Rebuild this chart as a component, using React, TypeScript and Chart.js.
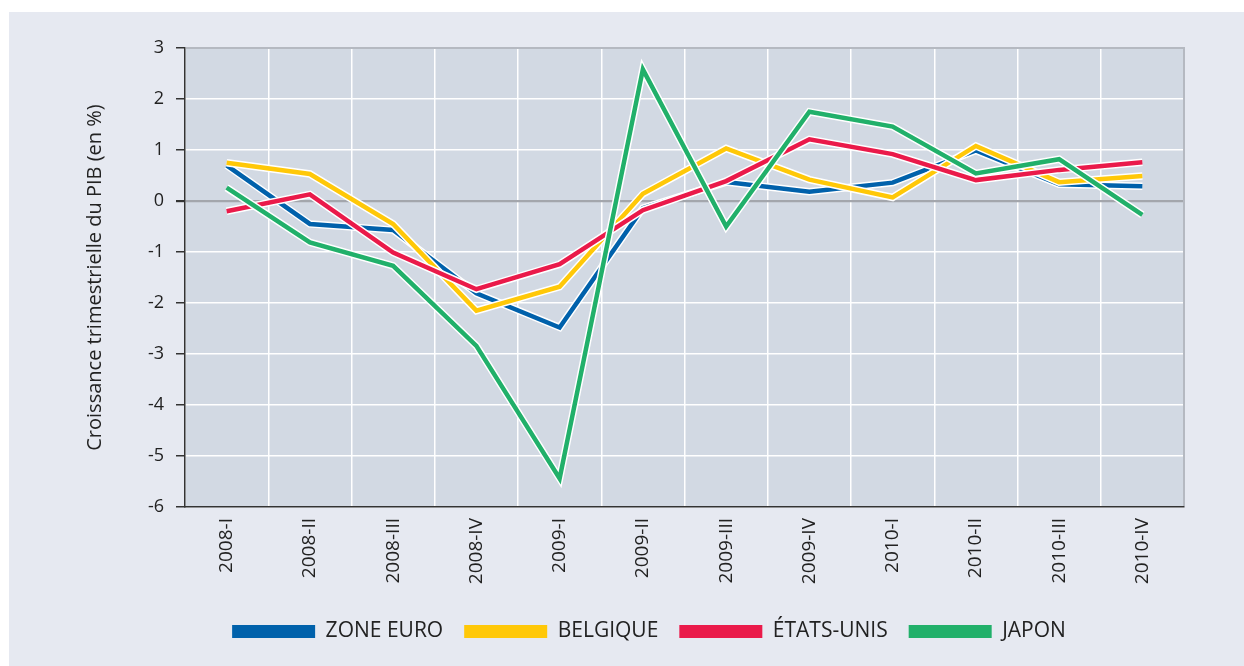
import React, { useEffect, useRef } from "react";
import { Chart, registerables } from "chart.js";

Chart.register(...registerables);

const categories = ["2008-I", "2008-II", "2008-III", "2008-IV", "2009-I", "2009-II", "2009-III", "2009-IV", "2010-I", "2010-II", "2010-III", "2010-IV"];
const zoneEuro = [0.7, -0.45, -0.57, -1.81, -2.48, -0.14, 0.37, 0.18, 0.36, 0.99, 0.33, 0.29];
const belgique = [0.75, 0.53, -0.45, -2.15, -1.68, 0.14, 1.03, 0.42, 0.07, 1.08, 0.37, 0.49];
const etatsUnis = [-0.2, 0.13, -1.01, -1.73, -1.24, -0.18, 0.39, 1.21, 0.92, 0.41, 0.61, 0.76];
const japon = [0.26, -0.81, -1.27, -2.84, -5.44, 2.58, -0.5, 1.75, 1.46, 0.54, 0.82, -0.27];
const seriesNames = ["ZONE EURO", "BELGIQUE", "ÉTATS-UNIS", "JAPON"];
const seriesValues = [zoneEuro, belgique, etatsUnis, japon];
const seriesColors = ["#0061ab", "#ffc808", "#ea1a4a", "#21b06a"];
const yMin = -6;
const yMax = 3;
const yTitle = "Croissance trimestrielle du PIB (en %)";

const FONT = "'Open Sans', 'DejaVu Sans', sans-serif";

const plotPlugin = {
  id: "plotDecor",
  beforeDraw(chart: any) {
    const { ctx, chartArea: a } = chart;
    ctx.save();
    ctx.fillStyle = "#d2d9e3";
    ctx.fillRect(a.left, a.top, a.right - a.left, a.bottom - a.top);
    ctx.restore();
  },
  beforeDatasetsDraw(chart: any) {
    const { ctx, chartArea: a } = chart;
    ctx.save();
    ctx.strokeStyle = "#b5b9c1";
    ctx.lineWidth = 2;
    ctx.beginPath();
    ctx.moveTo(a.left + 1, a.top);
    ctx.lineTo(a.right, a.top);
    ctx.lineTo(a.right, a.bottom - 1);
    ctx.stroke();
    ctx.restore();
  },
};

export default function App() {
  const ref = useRef<HTMLCanvasElement | null>(null);

  useEffect(() => {
    if (!ref.current) return;
    const colored = seriesNames.map((name, i) => ({
      label: name,
      data: seriesValues[i],
      borderColor: seriesColors[i],
      backgroundColor: seriesColors[i],
      borderWidth: 4.5,
      pointRadius: 0,
      pointHoverRadius: 0,
      tension: 0,
      borderJoinStyle: "miter" as const,
      order: (3 - i) * 2,
    }));
    const outlines = seriesNames.map((name, i) => ({
      label: name + "-outline",
      data: seriesValues[i],
      borderColor: "#ffffff",
      backgroundColor: "#ffffff",
      borderWidth: 7.5,
      pointRadius: 0,
      pointHoverRadius: 0,
      tension: 0,
      borderJoinStyle: "miter" as const,
      order: (3 - i) * 2 + 1,
    }));

    const chart = new Chart(ref.current, {
      type: "line",
      data: { labels: categories, datasets: [...colored, ...outlines] },
      plugins: [plotPlugin],
      options: {
        animation: false,
        responsive: false,
        devicePixelRatio: 1,
        layout: { padding: { left: 114, right: 60, top: 48, bottom: 14 } },
        plugins: {
          tooltip: { enabled: false },
          legend: {
            position: "bottom",
            labels: {
              boxWidth: 83,
              boxHeight: 13,
              padding: 21,
              color: "#222",
              font: { size: 21, family: FONT },
              generateLabels: (c: any) => {
                const items = Chart.defaults.plugins.legend.labels.generateLabels(c);
                return items
                  .filter((it: any) => it.datasetIndex < 4)
                  .sort((a: any, b: any) => a.datasetIndex - b.datasetIndex)
                  .map((it: any) => ({
                    ...it,
                    lineWidth: 0,
                    fillStyle: seriesColors[it.datasetIndex],
                    strokeStyle: seriesColors[it.datasetIndex],
                  }));
              },
            },
          },
        },
        scales: {
          x: {
            type: "category",
            offset: true,
            grid: { offset: true, color: "#ffffff", lineWidth: 1.5, drawTicks: false },
            border: { color: "#333333", width: 1.5 },
            ticks: {
              maxRotation: 90,
              minRotation: 90,
              padding: 11,
              color: "#222",
              font: { size: 19, family: FONT },
            },
            afterFit: (s: any) => {
              s.height = 93;
            },
          },
          y: {
            min: yMin,
            max: yMax,
            ticks: {
              stepSize: 1,
              padding: 12,
              color: "#222",
              font: { size: 18, family: FONT },
            },
            grid: {
              color: (ctx: any) => (ctx.tick && ctx.tick.value === 0 ? "#a3a6ac" : "#ffffff"),
              lineWidth: (ctx: any) => (ctx.tick && ctx.tick.value === 0 ? 2.2 : 1.5),
              tickColor: "#333333",
              tickLength: 9,
            },
            border: { color: "#333333", width: 1.5 },
            title: {
              display: true,
              text: yTitle,
              color: "#222",
              font: { size: 20, family: FONT },
              padding: { top: -31, bottom: 0 },
            },
            afterFit: (s: any) => {
              s.width = 71;
            },
          },
        },
      },
    });
    return () => chart.destroy();
  }, []);

  return (
    <div style={{ position: "fixed", left: 0, top: 0, width: 1244, height: 666, background: "#ffffff" }}>
      <div style={{ position: "absolute", left: 9, top: 12, right: 0, bottom: 0, background: "#e6e9f1" }} />
      <canvas ref={ref} width={1244} height={666} style={{ position: "absolute", left: 0, top: 0, width: 1244, height: 666 }} />
    </div>
  );
}
